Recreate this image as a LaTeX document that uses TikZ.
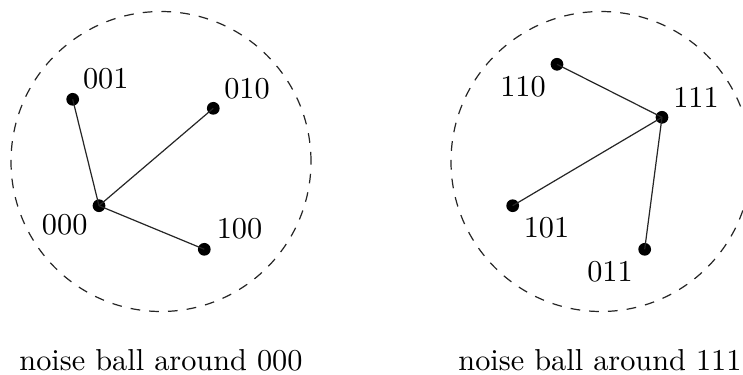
\documentclass[tikz,border=0pt]{standalone}
\begin{document}
\begin{tikzpicture}[x=0.33pt,y=-0.33pt,
  dot/.style={circle,fill=black,draw=none,inner sep=0pt,minimum size=4.2pt},
  lbl/.style={inner sep=0pt,font=\fontsize{10}{12}\selectfont},
  ball/.style={draw=black!85,line width=0.4pt,dash pattern=on 3.2pt off 3pt},
  edge/.style={draw=black!85,line width=0.4pt}]
\useasboundingbox (0,0) rectangle (743,375);
% noise balls
\draw[ball] (161,161.5) circle[radius=49.5pt];
\draw[ball] (601,161.5) circle[radius=49.5pt];
% left ball points
\node[dot] (a000) at (99,205.7) {};
\node[dot] (a001) at (72.7,99.3) {};
\node[dot] (a010) at (213.3,108.3) {};
\node[dot] (a100) at (204.3,249.3) {};
\draw[edge] (a000.center) -- (a001.center);
\draw[edge] (a000.center) -- (a010.center);
\draw[edge] (a000.center) -- (a100.center);
\node[lbl] (l000) at (64.7,225) {000};
\node[lbl] (l001) at (105.8,79) {001};
\node[lbl] (l010) at (247,88.5) {010};
\node[lbl] (l100) at (239.5,229) {100};
% right ball points
\node[dot] (b111) at (662,117.3) {};
\node[dot] (b110) at (557,64.3) {};
\node[dot] (b101) at (512.7,205.7) {};
\node[dot] (b011) at (644.7,249.3) {};
\draw[edge] (b111.center) -- (b110.center);
\draw[edge] (b111.center) -- (b101.center);
\draw[edge] (b111.center) -- (b011.center);
\node[lbl] (l111) at (696,97.8) {111};
\node[lbl] (l110) at (523,86.7) {110};
\node[lbl] (l101) at (546.5,227.5) {101};
\node[lbl] (l011) at (610,271.8) {011};
% captions
\node[lbl,anchor=base] (c0) at (161,370) {noise ball around 000};
\node[lbl,anchor=base] (c1) at (600,370) {noise ball around 111};
\end{tikzpicture}
\end{document}
